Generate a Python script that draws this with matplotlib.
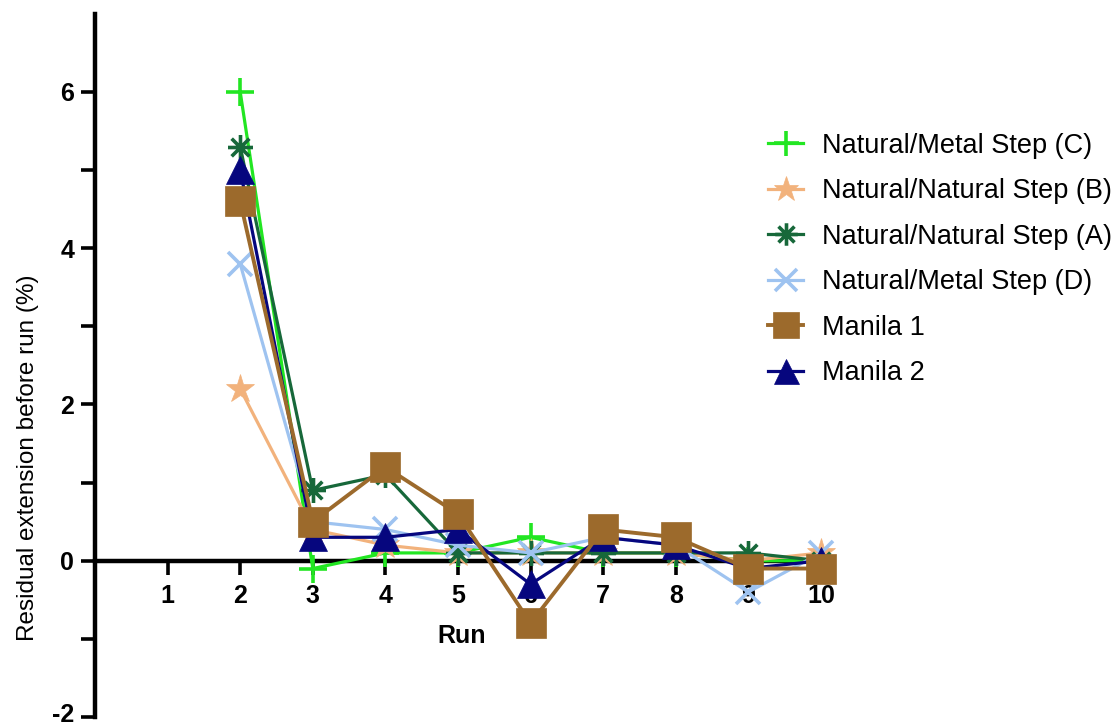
import numpy as np
import matplotlib
matplotlib.use("Agg")
import matplotlib.pyplot as plt
from matplotlib.path import Path
from matplotlib.transforms import offset_copy

plt.rcParams['font.family'] = ['Liberation Sans', 'DejaVu Sans']

runs = [2, 3, 4, 5, 6, 7, 8, 9, 10]

metal_c = [6.0, -0.1, 0.1, 0.1, 0.3, 0.1, 0.1, 0.0, 0.0]
natural_b = [2.2, 0.4, 0.2, 0.1, 0.1, 0.1, 0.1, 0.0, 0.1]
natural_a = [5.3, 0.9, 1.1, 0.1, 0.1, 0.1, 0.1, 0.1, 0.0]
metal_d = [3.8, 0.5, 0.4, 0.2, 0.1, 0.3, 0.2, -0.4, 0.1]
manila_1 = [4.6, 0.5, 1.2, 0.6, -0.8, 0.4, 0.3, -0.1, -0.1]
manila_2 = [5.0, 0.3, 0.3, 0.4, -0.3, 0.3, 0.2, -0.1, 0.0]

labels = ["Natural/Metal Step (C)", "Natural/Natural Step (B)",
          "Natural/Natural Step (A)", "Natural/Metal Step (D)",
          "Manila 1", "Manila 2"]

# eight-armed asterisk marker
c45 = np.sqrt(0.5)
asterisk = Path(
    [(-1, 0), (1, 0), (0, -1), (0, 1),
     (-c45, -c45), (c45, c45), (-c45, c45), (c45, -c45)],
    [Path.MOVETO, Path.LINETO] * 4)

fig = plt.figure(figsize=(11.18, 7.26), dpi=100)
ax = fig.add_axes([0.085, 0.0124, 0.659, 0.9686])

styles = [
    dict(data=metal_c, color='#22E622', marker='+', ms=20, mew=2.6, lw=2.3),
    dict(data=natural_b, color='#F2B27C', marker='*', ms=21, mew=0.5, lw=2.3),
    dict(data=natural_a, color='#17683A', marker=asterisk, ms=18, mew=2.6, lw=2.3),
    dict(data=metal_d, color='#9EC3F0', marker='x', ms=17, mew=2.6, lw=2.3),
    dict(data=manila_1, color='#9C6A2C', marker='s', ms=21, mew=0.5, lw=2.8),
    dict(data=manila_2, color='#06067E', marker='^', ms=20, mew=0.5, lw=2.3),
]
z = [3, 4, 5, 6, 8, 7]
handles = []
for st, lab, zz in zip(styles, labels, z):
    h, = ax.plot(runs, st['data'], color=st['color'], marker=st['marker'],
                 ms=st['ms'], mew=st['mew'], mec=st['color'], mfc=st['color'],
                 lw=st['lw'], label=lab, clip_on=False, zorder=zz)
    handles.append(h)

ax.set_xlim(0, 10.15)
ax.set_ylim(-2, 7)

for side in ['top', 'right']:
    ax.spines[side].set_visible(False)
ax.spines['bottom'].set_position(('data', 0))
ax.spines['left'].set_linewidth(3.2)
ax.spines['bottom'].set_linewidth(3.2)
ax.spines['bottom'].set_zorder(2)

ax.set_xticks(range(1, 11))
ax.set_yticks(range(-2, 7))
ax.set_yticklabels([str(v) if v % 2 == 0 else '' for v in range(-2, 7)])
ax.tick_params(axis='both', direction='out', length=10, width=2.6,
               labelsize=18, pad=5)
ax.tick_params(axis='x', pad=7)
for t in ax.get_xticklabels() + ax.get_yticklabels():
    t.set_fontweight('bold')

# keep the lowest y label inside the canvas
fig.canvas.draw()
low = ax.get_yticklabels()[0]
low.set_transform(offset_copy(low.get_transform(), fig=fig, x=0, y=4, units='dots'))

fig.text(0.413, 0.124, "Run", fontsize=18, fontweight='bold',
         ha='center', va='center')
fig.text(0.025, 0.369, "Residual extension before run (%)", fontsize=17.5,
         rotation=90, ha='center', va='center')

ax.legend(handles=handles, loc='upper left', bbox_to_anchor=(0.687, 0.817),
          bbox_transform=fig.transFigure, frameon=False, fontsize=19.5,
          handlelength=1.3, handletextpad=0.7, borderpad=0, borderaxespad=0,
          labelspacing=0.72, markerscale=0.9)

fig.savefig("out.png", dpi=100)
